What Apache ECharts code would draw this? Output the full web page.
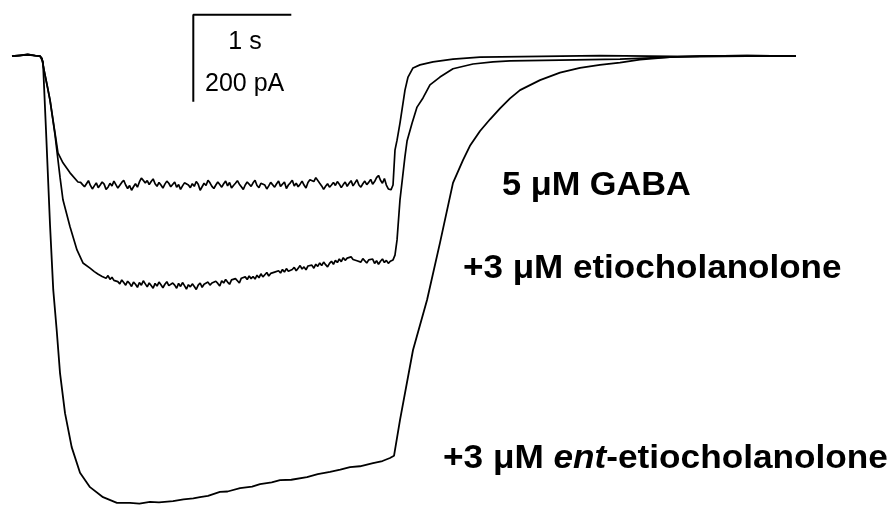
<!DOCTYPE html>
<html><head><meta charset="utf-8">
<script src="https://cdn.jsdelivr.net/npm/echarts@6/dist/echarts.min.js"></script>
<style>html,body{margin:0;padding:0;background:#fff}#c{width:894px;height:505px}</style>
</head><body><div id="c"></div>
<script>
// Time in s, current in pA
const sampleStep = 0.02;

// 5 uM GABA
const gabaPreT = [0, 0.08, 0.16, 0.24, 0.286, 0.306, 0.327, 0.357, 0.388, 0.439, 0.469, 0.520, 0.592, 0.673];
const gabaPreI = [0, 1, 4, 1, 0, -5, -32, -65, -101, -177, -222, -245, -268, -289];
const gabaPlateauStart = 0.70;
const gabaPlateauI = [
  -290,-295,-300,-293,-286,-297,-305,-298,-291,-302,
  -296,-289,-294,-306,-301,-292,-298,-287,-295,-303,
  -299,-290,-285,-296,-304,-297,-308,-300,-293,-301,
  -289,-280,-284,-291,-286,-295,-288,-282,-293,-299,
  -290,-296,-303,-294,-287,-292,-300,-297,-289,-301,
  -295,-306,-298,-291,-287,-296,-302,-293,-299,-288,
  -294,-308,-300,-292,-297,-285,-291,-299,-304,-296,
  -289,-295,-301,-293,-287,-298,-290,-303,-297,-292,
  -286,-294,-300,-306,-296,-289,-293,-299,-291,-285,
  -297,-302,-292,-288,-296,-305,-298,-290,-294,-301,
  -293,-287,-299,-295,-289,-304,-296,-291,-285,-298,
  -292,-300,-294,-287,-296,-303,-290,-284,-281,-288,
  -279,-283,-292,-298,-306,-299,-293,-301,-296,-290,
  -297,-288,-294,-302,-295,-289,-299,-292,-286,-298,
  -291,-284,-296,-301,-293,-287,-295,-290,-283,-294,
  -288,-279,-274,-285,-292,-281,-296,-305];
const gabaPostT = [3.867, 3.888, 3.908, 3.929, 3.959, 4.010, 4.041, 4.092, 4.163, 4.296, 4.500, 4.776, 5.2, 5.6, 6.0, 6.5, 7.0, 7.5, 8.0];
const gabaPostI = [-307, -296, -216, -193, -154, -78, -48, -27, -20, -13, -7, -2, -1, 0, 1, 0, -1, 0, 0];

// +3 uM etiocholanolone
const etioPreT = [0, 0.08, 0.16, 0.24, 0.286, 0.306, 0.327, 0.357, 0.388, 0.439, 0.490, 0.520, 0.592, 0.663, 0.724, 0.796, 0.84];
const etioPreI = [0, 2, 3, 1, 0, -6, -32, -66, -101, -181, -278, -330, -392, -445, -475, -487, -495];
const etioPlateauStart = 0.86;
const etioPlateauI = [
  -495,-501,-498,-506,-503,-510,-504,-513,-508,-515,
  -511,-518,-523,-514,-520,-526,-517,-522,-529,-519,
  -524,-531,-520,-526,-516,-523,-530,-521,-527,-533,
  -522,-528,-519,-525,-532,-524,-518,-527,-530,-521,
  -526,-533,-522,-529,-520,-527,-535,-525,-530,-523,
  -529,-536,-526,-521,-531,-524,-528,-519,-526,-521,
  -525,-517,-522,-528,-516,-521,-513,-519,-524,-514,
  -518,-511,-516,-521,-510,-514,-507,-513,-505,-511,
  -506,-512,-503,-509,-500,-507,-502,-497,-505,-499,
  -503,-496,-500,-493,-498,-490,-496,-488,-494,-497,
  -490,-485,-493,-487,-481,-489,-484,-491,-482,-486,
  -480,-487,-478,-483,-475,-481,-473,-479,-484,-476,
  -471,-478,-469,-474,-466,-472,-463,-469,-464,-467,
  -461,-467,-463,-470,-466,-473,-465,-469,-475,-468,
  -472,-466,-476,-470,-478,-471,-466,-474,-469,-476,
  -471];
const etioPostT = [3.888, 3.908, 3.929, 3.959, 4.010, 4.031, 4.082, 4.133, 4.194, 4.265, 4.367, 4.500, 4.704, 4.908, 5.082, 5.592, 6.204, 6.714, 7.02, 7.5, 8.0];
const etioPostI = [-468, -457, -422, -330, -230, -195, -154, -117, -96, -66, -48, -29, -18, -13, -11, -9, -7, -2, 0, 1, 0];

// +3 uM ent-etiocholanolone
const entT = [0, 0.08, 0.16, 0.24, 0.286, 0.316, 0.347, 0.388, 0.421, 0.456, 0.490, 0.541, 0.609, 0.694, 0.796, 0.929, 1.071, 1.204, 1.30, 1.408, 1.50, 1.643, 1.75, 1.85, 1.918, 2.0, 2.122, 2.2, 2.327, 2.45, 2.531, 2.65, 2.735, 2.85, 3.010, 3.12, 3.245, 3.35, 3.449, 3.55, 3.684, 3.78, 3.857, 3.898, 3.959, 4.092, 4.235, 4.367, 4.500, 4.602, 4.673, 4.776, 4.878, 4.980, 5.082, 5.184, 5.388, 5.592, 5.796, 6.0, 6.204, 6.408, 6.714, 7.02, 7.5, 8.0];
const entI = [0, 2, 4, 1, 0, -13, -170, -388, -537, -629, -728, -820, -898, -957, -990, -1013, -1026, -1026, -1028, -1024, -1025, -1022, -1018, -1016, -1013, -1010, -1001, -1000, -992, -989, -983, -979, -974, -973, -967, -960, -955, -950, -944, -942, -935, -930, -923, -918, -836, -675, -560, -429, -291, -239, -206, -172, -145, -120, -97, -78, -55, -38, -27, -20, -15, -8, -2, 0, 1, 0];

// Scale bar: 1 s, 200 pA
const scaleT = [1.85, 1.85, 2.85];
const scaleI = [-105, 95, 95];

const labels = ['5 μM GABA', '+3 μM etiocholanolone', ['+3 μM ', 'ent', '-etiocholanolone']];
const scaleLabels = ['1 s', '200 pA'];

function zip(t, v) { return t.map((x, i) => [x, v[i]]); }
function plateau(start, vals) { return vals.map((v, i) => [+(start + i * sampleStep).toFixed(3), v]); }

const gabaData = zip(gabaPreT, gabaPreI).concat(plateau(gabaPlateauStart, gabaPlateauI), zip(gabaPostT, gabaPostI));
const etioData = zip(etioPreT, etioPreI).concat(plateau(etioPlateauStart, etioPlateauI), zip(etioPostT, etioPostI));
const entData = zip(entT, entI);
const scaleData = zip(scaleT, scaleI);

const chart = echarts.init(document.getElementById('c'), null, {renderer: 'canvas'});
const lineS = (name, data, w) => ({
  name, type: 'line', data, showSymbol: false, symbol: 'none', animation: false, silent: true,
  lineStyle: {color: '#000', width: w}, z: 2
});
const fam = '"Liberation Sans", Arial, sans-serif';
const bold = 'bold 34px ' + fam;
chart.setOption({
  animation: false,
  backgroundColor: '#fff',
  grid: {left: 12, right: 98, top: 0, bottom: 0},
  xAxis: {type: 'value', min: 0, max: 8, show: false},
  yAxis: {type: 'value', min: -1031, max: 129, show: false},
  series: [
    lineS('GABA', gabaData, 1.7),
    lineS('etio', etioData, 1.7),
    lineS('ent', entData, 1.8),
    lineS('scale', scaleData, 2)
  ],
  graphic: [
    {type: 'text', x: 245, y: 42, style: {text: scaleLabels[0], font: '25px ' + fam, fill: '#000', align: 'center', verticalAlign: 'middle'}},
    {type: 'text', x: 205, y: 84, style: {text: scaleLabels[1], font: '25px ' + fam, fill: '#000', align: 'left', verticalAlign: 'middle'}},
    {type: 'text', x: 502, y: 186, scaleX: 1.01, style: {text: labels[0], font: bold, fill: '#000', align: 'left', verticalAlign: 'middle'}},
    {type: 'text', x: 463, y: 269, scaleX: 1.03, style: {text: labels[1], font: bold, fill: '#000', align: 'left', verticalAlign: 'middle'}},
    {type: 'text', x: 443, y: 459, scaleX: 1.035, style: {
      text: '{a|' + labels[2][0] + '}{b|' + labels[2][1] + '}{a|' + labels[2][2] + '}',
      fill: '#000', align: 'left', verticalAlign: 'middle',
      rich: {
        a: {fontSize: 34, fontWeight: 'bold', fontFamily: fam, fill: '#000'},
        b: {fontSize: 34, fontWeight: 'bold', fontStyle: 'italic', fontFamily: fam, fill: '#000'}
      }
    }}
  ]
});
</script></body></html>
